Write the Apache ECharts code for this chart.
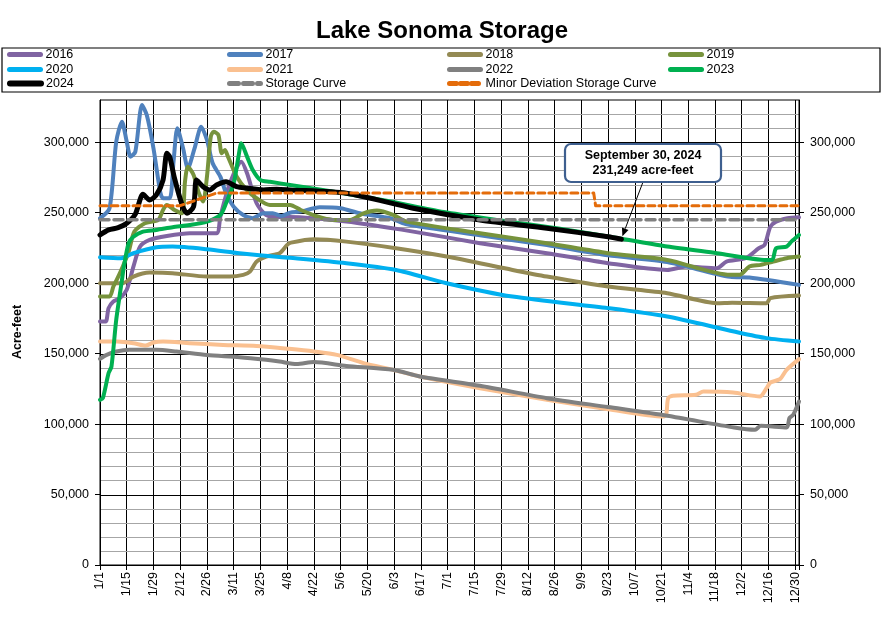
<!DOCTYPE html>
<html>
<head>
<meta charset="utf-8">
<script src="https://cdn.jsdelivr.net/npm/echarts@6/dist/echarts.min.js"></script>
<style>
html,body{margin:0;padding:0;background:#fff;}
#c{width:884px;height:629px;}
</style>
</head>
<body>
<div id="c"></div>
<script>
// ---- Tick labels (x axis: every 14 days from 1/1, leap year) ----
const tickLabels = ['1/1','1/15','1/29','2/12','2/26','3/11','3/25','4/8','4/22','5/6','5/20','6/3','6/17','7/1','7/15','7/29','8/12','8/26','9/9','9/23','10/7','10/21','11/4','11/18','12/2','12/16','12/30'];
// ---- y tick values (labelled) and horizontal gridline values ----
const yTickValues = [0,50000,100000,150000,200000,250000,300000];
const yGridValues = [10000,20000,30000,40000,50000,60000,70000,80000,90000,100000,110000,120000,130000,140000,150000,160000,170000,180000,190000,200000,210000,220000,230000,240000,250000,260000,270000,280000,290000,300000,310000,320000];

// ---- Series: day-of-year (0 = Jan 1) and storage in acre-feet ----
const d2016 = [0,3,4.5,7,10.5,14,17.5,21,26,35,47,61,63,68,74,77,82,87,94,99,129,164,199,234,266,297,307,323,328,338,345,348,351,354,360,366];
const v2016 = [172800,172800,182300,187000,189400,195300,211800,226000,230700,233500,235500,235500,247200,270900,286200,278000,256700,248400,247000,247000,243700,236600,228400,221300,214200,209400,211800,210600,215300,217700,224800,227200,240100,243700,246100,246800];

const d2017 = [0,5,8.5,11.5,14,16,18.5,22,24.5,28,31.5,33,36.5,38.5,40.5,43.5,46,49.5,53,56,59,63,66,70,75,80,85.5,90.5,95,99.5,105,115,126,136,152,160,199,234,266,297,330,340,366];
const v2017 = [246100,253200,300400,314600,300400,289800,293300,326400,319300,295700,265000,260300,260300,286200,309900,295700,281500,295700,311100,301600,285100,275600,263800,254300,248400,246100,249600,249600,247700,250000,250800,253900,253200,249600,246100,242000,234000,227000,219800,215000,204500,204000,198800];

const d2018 = [0,12,17.5,26,38,56,68,75,78.5,82,87,94,98,100,112,129,155,181.5,216,234,266,297,323,331,349,351,366];
const v2018 = [200000,200000,204700,207500,207100,204700,204700,205900,208200,215300,218900,221300,227200,228800,231200,229500,224800,218900,209400,204700,197600,192900,185800,186200,185800,189400,191200];

const d2019 = [0,5,7,9,12,15,18,23.5,30.5,33,35,39,43,44.5,46,49,51.5,54,56,58,59.5,62,63.7,65.4,67,71.6,76.8,82,89,99.5,105,113,122,131,138,145,153.5,160.5,199,234,266,297,330,335,340,346,352.5,359.5,366];
const v2019 = [190500,190500,197600,203000,212000,222400,236600,242500,244900,252000,255500,252000,249600,272000,282700,276800,265000,257900,275600,304000,307500,305200,292200,294500,289800,275600,266200,260300,255500,255500,252000,247700,244900,244900,249600,251500,248400,243700,235500,228400,221300,216500,205900,205900,211800,213000,215300,217700,218900];

const d2020 = [0,11,17.5,29.5,38,56,73,94,99.5,129,155,181.5,216,266,297,332,349,366];
const v2020 = [218400,217700,221300,225500,226000,224100,221300,218500,218000,214200,209400,200000,190500,182300,176300,165700,161000,158600];

const d2021 = [0,9,17.5,24,28,33,47,64.5,82,99,112,124,138,153.5,167.5,199,234,266,295,296.5,297.5,300,312,316,331.5,345.5,349,351,356,359.5,366];
const v2021 = [158600,158600,157400,155700,157900,158600,157400,156200,155500,153400,151500,149100,143300,138500,133800,125500,117200,110600,105400,107000,118400,120100,120800,123100,122400,119600,125500,129500,131900,138500,146100];

const d2022 = [0,3.5,8.5,15.5,29.5,40,56,73,87,94,103,112,129,153.5,167.5,199,234,266,297,332,343,346,359.5,361,363,366];
const v2022 = [146300,149100,151500,152700,152700,151500,149100,147500,145600,144400,142600,144000,141300,138500,133800,127200,118400,112100,105900,97600,96000,98800,97600,104300,106600,116000];

const d2023 = [0,1.5,4.5,6,8.5,11.5,12.5,15,17.5,22.5,29.5,38,47,56,63,66,70,72.5,74,77,80,84,89,99.5,120,150,180,210,240,273,297,323,349,352,354,359.5,362,366];
const v2023 = [117200,118400,136200,140800,174000,202300,211800,228400,233000,236600,237800,239700,241300,243700,248400,256700,270900,289800,299300,289800,280300,273200,272000,269700,265500,258500,250500,244500,238800,231500,226000,221300,216500,216500,224800,226000,229500,234200];

const d2024 = [0,4.5,9.5,14,18.5,22.5,26,29.5,33,35,36.5,39,43,45.5,49,50.5,54,57.5,61,66,71.5,77,85.5,92.5,99.5,129,164,199,234,266,273];
const v2024 = [234200,237800,239400,242500,249000,263100,259000,262600,273200,292200,289800,274500,255500,249600,254300,273200,268500,266200,269700,272000,268500,267400,266200,266700,266200,263800,253200,244900,239000,233000,231249];

const dStorage = [0,366];
const vStorage = [245000,245000];

const dMinor = [0,42,61,258.5,259.5,366];
const vMinor = [255000,255000,264000,264000,255000,255000];

const seriesNames = ['2016','2017','2018','2019','2020','2021','2022','2023','2024','Storage Curve','Minor Deviation Storage Curve'];
const seriesDays = [d2016,d2017,d2018,d2019,d2020,d2021,d2022,d2023,d2024,dStorage,dMinor];
const seriesVals = [v2016,v2017,v2018,v2019,v2020,v2021,v2022,v2023,v2024,vStorage,vMinor];
const annotationText = ['September 30, 2024', '231,249 acre-feet'];

// ---- styles ----
const colors = ['#8064A2','#4F81BD','#948A54','#77933C','#00B0F0','#FAC090','#808080','#00B050','#000000','#808080','#E46C0A'];
const widths = [4,4,4,4,4,4,4,4,5,3.5,3];
const dashes = [null,null,null,null,null,null,null,null,null,[9,5],[7,4]];
const FONT = "'Liberation Sans', Arial, sans-serif";

const chart = echarts.init(document.getElementById('c'), null, {renderer:'canvas'});

const series = seriesNames.map((name, i) => ({
  name: name,
  type: 'line',
  symbol: 'none',
  smooth: i >= 9 ? false : 0.25,
  animation: false,
  data: seriesDays[i].map((d, k) => [d, seriesVals[i][k]]),
  lineStyle: { color: colors[i], width: widths[i], type: dashes[i] || 'solid', cap: 'round', join: 'round' },
  itemStyle: { color: colors[i] },
  z: 2 + i
}));

// legend: 4 columns x 3 rows
const colLeft = [7, 227, 447, 668];
const rowCenter = [55, 70, 84];
const legends = seriesNames.map((name, i) => ({
  data: [name],
  left: colLeft[i % 4],
  top: rowCenter[Math.floor(i / 4)] - 7,
  padding: 0,
  itemWidth: 31,
  itemHeight: 14,
  selectedMode: false,
  textStyle: { fontFamily: FONT, fontSize: 12.5, color: '#000' },
  itemStyle: { opacity: 0 },
  lineStyle: { width: i === 8 ? 6 : 5 }
}));

const yCommon = {
  type: 'value', min: 0, max: 330000, interval: 10000,
  axisLine: { show: true, lineStyle: { color: '#000', width: 1 } },
  axisTick: { show: true, length: 5, customValues: yTickValues, lineStyle: { color: '#000' } },
  axisLabel: {
    customValues: yTickValues,
    fontFamily: FONT, fontSize: 12.5, color: '#000', margin: 11,
    formatter: v => v.toLocaleString('en-US')
  },
  splitLine: { show: false }
};

chart.setOption({
  animation: false,
  backgroundColor: '#fff',
  title: {
    text: 'Lake Sonoma Storage', left: 'center', top: 14,
    textStyle: { fontFamily: FONT, fontSize: 24, fontWeight: 'bold', color: '#000' }
  },
  legend: legends,
  grid: { left: 100, top: 100, right: 85, bottom: 64, show: false },
  xAxis: {
    type: 'value', min: 0, max: 366, interval: 14,
    axisLine: { show: true, lineStyle: { color: '#000' } },
    axisTick: { show: true, length: 5, lineStyle: { color: '#000' } },
    axisLabel: {
      rotate: 90, fontFamily: FONT, fontSize: 12.5, color: '#000', margin: 7,
      formatter: v => (v % 14 === 0 && tickLabels[v / 14] !== undefined) ? tickLabels[v / 14] : ''
    },
    splitLine: { show: true, lineStyle: { color: '#000', width: 1 } }
  },
  yAxis: [
    Object.assign({}, yCommon, { position: 'left' }),
    Object.assign({}, yCommon, { position: 'right' })
  ],
  series: series
});

// horizontal gridlines placed through the y axis scale
const xLeft = chart.convertToPixel({ xAxisIndex: 0 }, 0);
const xRight = chart.convertToPixel({ xAxisIndex: 0 }, 366);
const gridGraphics = yGridValues.map(v => {
  const y = Math.round(chart.convertToPixel({ yAxisIndex: 0 }, v)) + 0.5;
  const major = v % 50000 === 0;
  return { type: 'line', silent: true, z: major ? 1 : 0,
    shape: { x1: xLeft, y1: y, x2: xRight, y2: y },
    style: { stroke: major ? '#000' : '#A6A6A6', lineWidth: 1 } };
});

// annotation box + arrow pointing at the last 2024 value
const lastIdx = d2024.length - 1;
const tip = chart.convertToPixel({ xAxisIndex: 0, yAxisIndex: 0 }, [d2024[lastIdx], v2024[lastIdx]]);
const box = { x: 565, y: 144, w: 156, h: 38 };
const start = [643, box.y + box.h];
const end = [tip[0] + 1, tip[1] - 3];
const ang = Math.atan2(end[1] - start[1], end[0] - start[0]);
const ah = 8, aw = 3.5;
const base = [end[0] - ah * Math.cos(ang), end[1] - ah * Math.sin(ang)];
const p1 = [base[0] + aw * Math.sin(ang), base[1] - aw * Math.cos(ang)];
const p2 = [base[0] - aw * Math.sin(ang), base[1] + aw * Math.cos(ang)];

chart.setOption({
  graphic: gridGraphics.concat([
    { type: 'rect', shape: { x: 2, y: 48, width: 878, height: 44 }, style: { fill: 'none', stroke: '#000', lineWidth: 1.2 }, z: 1, silent: true },
    { type: 'rect', shape: { x: 100, y: 100, width: 699, height: 465 }, style: { fill: 'none', stroke: '#000', lineWidth: 1 }, z: 1, silent: true },
    { type: 'text', x: 18, y: 332, rotation: Math.PI / 2,
      style: { text: 'Acre-feet', font: "bold 12.5px 'Liberation Sans', Arial, sans-serif", fill: '#000', textAlign: 'center', textVerticalAlign: 'middle' }, z: 10 },
    { type: 'line', shape: { x1: start[0], y1: start[1], x2: base[0], y2: base[1] }, style: { stroke: '#000', lineWidth: 1 }, z: 20 },
    { type: 'polygon', shape: { points: [end, p1, p2] }, style: { fill: '#000' }, z: 20 },
    { type: 'rect', shape: { x: box.x, y: box.y, width: box.w, height: box.h, r: 6 }, style: { fill: '#fff', stroke: '#3E5F8F', lineWidth: 2.2 }, z: 21 },
    { type: 'text', x: box.x + box.w / 2, y: box.y + box.h / 2,
      style: { text: annotationText.join('\n'), font: "bold 12.5px 'Liberation Sans', Arial, sans-serif", lineHeight: 15, fill: '#000', textAlign: 'center', textVerticalAlign: 'middle' }, z: 22 }
  ])
});
</script>
</body>
</html>
